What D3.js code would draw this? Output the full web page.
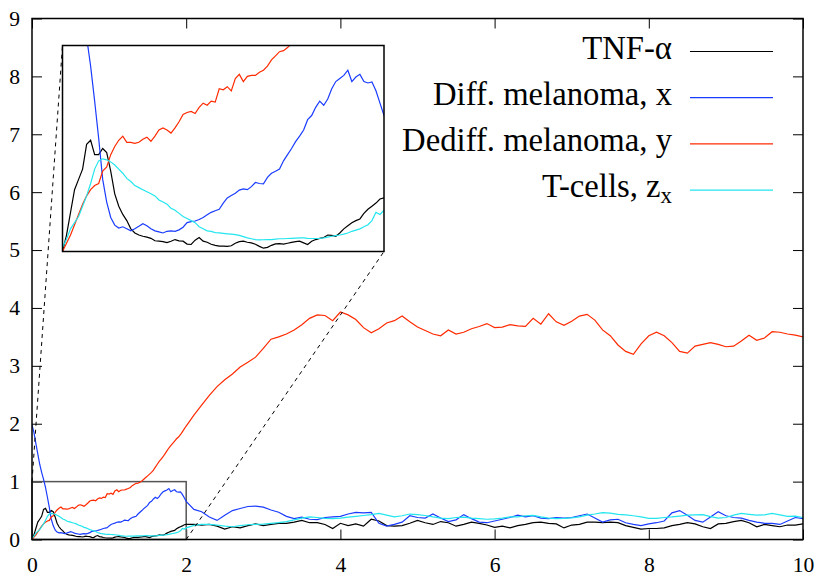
<!DOCTYPE html>
<html>
<head>
<meta charset="utf-8">
<script src="https://cdn.jsdelivr.net/npm/d3@7"></script>
<style>
  body { margin: 0; background: #fff; }
  svg text { font-family: "Liberation Serif", "DejaVu Serif", "Noto Serif", serif; fill: #000; }
</style>
</head>
<body>
<div id="chart"></div>
<script>

// Time grid: fine steps up to t=2 (shown in the inset), coarser afterwards
var timeEarly = d3.range(0, 80).map(function(i) { return i / 40; });
var timeLate = d3.range(20, 101).map(function(i) { return i / 10; });

// TNF-alpha
var tnfEarly = [
  0.00, 0.08, 0.19, 0.30, 0.35, 0.40, 0.52, 0.54,
  0.47, 0.47, 0.50, 0.48, 0.39, 0.28, 0.22, 0.18,
  0.15, 0.11, 0.09, 0.08, 0.074, 0.07, 0.064, 0.052,
  0.05, 0.048, 0.043, 0.05, 0.058, 0.052, 0.05, 0.036,
  0.034, 0.055, 0.068, 0.05, 0.045, 0.035, 0.03, 0.026,
  0.026, 0.025, 0.028, 0.04, 0.048, 0.05, 0.045, 0.042,
  0.035, 0.025, 0.016, 0.02, 0.03, 0.037, 0.038, 0.036,
  0.04, 0.044, 0.048, 0.05, 0.042, 0.034, 0.05, 0.058,
  0.064, 0.068, 0.08, 0.078, 0.074, 0.09, 0.11, 0.125,
  0.14, 0.15, 0.158, 0.185, 0.205, 0.22, 0.235, 0.255];
var tnfLate = [
  0.26, 0.26, 0.25, 0.26, 0.23, 0.18, 0.22, 0.20, 0.24, 0.27,
  0.24, 0.26, 0.28, 0.28, 0.30, 0.33, 0.29, 0.29, 0.26, 0.19,
  0.28, 0.24, 0.27, 0.23, 0.35, 0.32, 0.24, 0.23, 0.24, 0.28,
  0.33, 0.29, 0.26, 0.31, 0.29, 0.23, 0.26, 0.30, 0.28, 0.25,
  0.21, 0.23, 0.20, 0.24, 0.26, 0.29, 0.30, 0.28, 0.27, 0.20,
  0.25, 0.26, 0.30, 0.30, 0.29, 0.30, 0.29, 0.24, 0.21, 0.18,
  0.19, 0.19, 0.20, 0.24, 0.26, 0.29, 0.27, 0.22, 0.19, 0.27,
  0.28, 0.31, 0.33, 0.29, 0.22, 0.26, 0.24, 0.22, 0.25, 0.25,
  0.27];

// Differentiated melanoma, x
var diffEarly = [
  1.98, 1.85, 1.66, 1.48, 1.30, 1.16, 1.04, 0.90,
  0.73, 0.55, 0.35, 0.24, 0.165, 0.128, 0.114, 0.12,
  0.11, 0.10, 0.11, 0.122, 0.135, 0.125, 0.11, 0.10,
  0.095, 0.09, 0.098, 0.10, 0.098, 0.105, 0.118, 0.14,
  0.145, 0.148, 0.155, 0.165, 0.178, 0.19, 0.198, 0.205,
  0.235, 0.26, 0.272, 0.283, 0.298, 0.304, 0.30, 0.315,
  0.335, 0.33, 0.328, 0.36, 0.38, 0.39, 0.40, 0.44,
  0.47, 0.50, 0.533, 0.56, 0.59, 0.64, 0.66, 0.70,
  0.73, 0.71, 0.74, 0.79, 0.825, 0.84, 0.855, 0.88,
  0.825, 0.847, 0.86, 0.825, 0.818, 0.823, 0.78, 0.72];
var diffLate = [
  0.66, 0.52, 0.48, 0.39, 0.33, 0.42, 0.50, 0.535, 0.57, 0.575,
  0.56, 0.51, 0.47, 0.40, 0.36, 0.385, 0.35, 0.345, 0.38, 0.39,
  0.40, 0.44, 0.47, 0.46, 0.47, 0.28, 0.23, 0.26, 0.30, 0.41,
  0.38, 0.37, 0.44, 0.37, 0.31, 0.34, 0.43, 0.36, 0.30, 0.29,
  0.32, 0.35, 0.38, 0.42, 0.39, 0.41, 0.37, 0.36, 0.38, 0.37,
  0.38, 0.41, 0.44, 0.37, 0.30, 0.34, 0.35, 0.29, 0.26, 0.24,
  0.27, 0.29, 0.32, 0.46, 0.50, 0.42, 0.33, 0.30, 0.39, 0.48,
  0.41, 0.38, 0.37, 0.33, 0.30, 0.28, 0.28, 0.26, 0.32, 0.38,
  0.36];

// Dedifferentiated melanoma, y
var dediffEarly = [
  0.00, 0.04, 0.08, 0.13, 0.18, 0.23, 0.27, 0.30,
  0.32, 0.33, 0.39, 0.41, 0.47, 0.51, 0.54, 0.56,
  0.53, 0.53, 0.525, 0.53, 0.545, 0.555, 0.535, 0.56,
  0.59, 0.60, 0.59, 0.575, 0.60, 0.63, 0.665, 0.675,
  0.68, 0.67, 0.70, 0.72, 0.71, 0.73, 0.725, 0.79,
  0.785, 0.80, 0.78, 0.84, 0.86, 0.825, 0.85, 0.855,
  0.855, 0.87, 0.88, 0.90, 0.93, 0.95, 0.97, 0.975,
  0.99, 1.01, 1.04, 1.07, 1.10, 1.13, 1.16, 1.20,
  1.25, 1.30, 1.35, 1.39, 1.43, 1.48, 1.53, 1.58,
  1.62, 1.66, 1.70, 1.74, 1.77, 1.81, 1.86, 1.91];
var dediffLate = [
  1.96, 2.15, 2.32, 2.49, 2.64, 2.76, 2.86, 2.98, 3.06, 3.15,
  3.30, 3.46, 3.50, 3.55, 3.62, 3.71, 3.82, 3.88, 3.87, 3.78,
  3.93, 3.88, 3.80, 3.66, 3.57, 3.64, 3.74, 3.78, 3.86, 3.76,
  3.67, 3.61, 3.55, 3.52, 3.62, 3.55, 3.58, 3.64, 3.68, 3.73,
  3.66, 3.67, 3.71, 3.69, 3.68, 3.82, 3.72, 3.90, 3.76, 3.70,
  3.77, 3.86, 3.89, 3.79, 3.62, 3.52, 3.36, 3.25, 3.20, 3.38,
  3.52, 3.58, 3.52, 3.40, 3.25, 3.22, 3.34, 3.37, 3.40, 3.37,
  3.33, 3.34, 3.43, 3.53, 3.44, 3.48, 3.59, 3.58, 3.55, 3.53,
  3.50];

// T-cells, z_x
var tcellEarly = [
  0.02, 0.06, 0.11, 0.14, 0.17, 0.22, 0.27, 0.33,
  0.40, 0.44, 0.45, 0.445, 0.435, 0.42, 0.40, 0.38,
  0.355, 0.34, 0.32, 0.31, 0.30, 0.29, 0.28, 0.27,
  0.25, 0.24, 0.23, 0.21, 0.20, 0.185, 0.17, 0.16,
  0.15, 0.14, 0.12, 0.11, 0.10, 0.098, 0.092, 0.09,
  0.088, 0.086, 0.084, 0.082, 0.078, 0.072, 0.066, 0.062,
  0.058, 0.056, 0.057, 0.058, 0.058, 0.06, 0.062, 0.062,
  0.063, 0.064, 0.065, 0.066, 0.066, 0.064, 0.063, 0.063,
  0.063, 0.066, 0.07, 0.074, 0.077, 0.08, 0.084, 0.09,
  0.098, 0.104, 0.11, 0.12, 0.13, 0.15, 0.19, 0.18];
var tcellLate = [
  0.20, 0.245, 0.26, 0.26, 0.25, 0.23, 0.22, 0.24, 0.255, 0.26,
  0.265, 0.28, 0.29, 0.31, 0.34, 0.37, 0.39, 0.38, 0.365, 0.36,
  0.37, 0.385, 0.40, 0.415, 0.43, 0.45, 0.42, 0.39, 0.41, 0.44,
  0.43, 0.415, 0.39, 0.37, 0.36, 0.38, 0.385, 0.37, 0.36, 0.35,
  0.355, 0.37, 0.39, 0.39, 0.41, 0.415, 0.39, 0.37, 0.36, 0.365,
  0.375, 0.39, 0.42, 0.44, 0.465, 0.455, 0.435, 0.425, 0.41, 0.39,
  0.365, 0.365, 0.38, 0.39, 0.405, 0.42, 0.425, 0.43, 0.395, 0.37,
  0.38, 0.42, 0.45, 0.435, 0.42, 0.425, 0.45, 0.425, 0.40, 0.405,
  0.38];

// Legend labels, colours and axis ticks
var seriesLabels = ["TNF-\u03b1", "Diff. melanoma, x", "Dediff. melanoma, y", "T-cells, z"];
var seriesColors = ["#000000", "#1a3cff", "#ff2a00", "#22e6ee"];
var xTicks = [0, 2, 4, 6, 8, 10];
var yTicks = [0, 1, 2, 3, 4, 5, 6, 7, 8, 9];
var zoomWindow = {t: [0, 2], v: [0, 1]};

window.onload = function() {

  var width = 817, height = 577;
  var plot = {left: 32, right: 803, top: 18.5, bottom: 539.5};
  var inset = {left: 62.5, right: 384, top: 45.5, bottom: 251.5};
  var serif = "'Liberation Serif', 'DejaVu Serif', 'Noto Serif', serif";

  var time = timeEarly.concat(timeLate);
  var values = [
    tnfEarly.concat(tnfLate),
    diffEarly.concat(diffLate),
    dediffEarly.concat(dediffLate),
    tcellEarly.concat(tcellLate)
  ];
  var series = values.map(function(vals, k) {
    return {
      color: seriesColors[k],
      points: time.map(function(t, i) { return {t: t, v: vals[i]}; })
    };
  });

  var svg = d3.select("#chart").append("svg")
    .attr("width", width)
    .attr("height", height);

  // Scales for main plot and inset
  var x = d3.scaleLinear().domain([0, 10]).range([plot.left, plot.right]);
  var y = d3.scaleLinear().domain([0, 9]).range([plot.bottom, plot.top]);
  var xi = d3.scaleLinear().domain(zoomWindow.t).range([inset.left, inset.right]);
  var yi = d3.scaleLinear().domain(zoomWindow.v).range([inset.bottom, inset.top]);

  var defs = svg.append("defs");
  defs.append("clipPath").attr("id", "clip-main").append("rect")
    .attr("x", plot.left).attr("y", plot.top)
    .attr("width", plot.right - plot.left).attr("height", plot.bottom - plot.top);
  defs.append("clipPath").attr("id", "clip-inset").append("rect")
    .attr("x", inset.left).attr("y", inset.top)
    .attr("width", inset.right - inset.left).attr("height", inset.bottom - inset.top);

  // Legend first, so its font size can be fitted to the reference width
  var legendTop = 51.5, legendStep = 46.2;
  var legend = svg.selectAll(".legend")
    .data(seriesLabels)
    .enter()
    .append("g")
    .attr("class", "legend")
    .attr("transform", function(d, i) {
      return "translate(0," + (legendTop + i * legendStep) + ")";
    });

  legend.append("line")
    .attr("x1", 690).attr("x2", 773)
    .attr("y1", 0).attr("y2", 0)
    .attr("stroke", function(d, i) { return seriesColors[i]; })
    .attr("stroke-width", 1.2);

  var labels = legend.append("text")
    .attr("x", 672)
    .attr("y", 7)
    .attr("text-anchor", "end")
    .style("font-family", serif)
    .attr("font-size", 32);
  labels.append("tspan").attr("class", "main").text(function(d) { return d; });
  var sub = labels.filter(function(d, i) { return i === 3; })
    .append("tspan")
    .attr("dy", 6)
    .text("x");

  // fit: "Dediff. melanoma, y" spans ~270px in the reference
  var measured = labels.filter(function(d, i) { return i === 2; }).node().getComputedTextLength();
  var scale = measured > 0 ? 270 / measured : 1;
  var legendSize = 32 * scale;
  labels.attr("font-size", legendSize);
  sub.attr("font-size", legendSize * 0.7);
  var tickSize = legendSize * 0.66;

  // Axes with inward ticks on all four sides
  svg.append("g")
    .attr("transform", "translate(0," + plot.bottom + ")")
    .call(d3.axisBottom(x).tickValues(xTicks).tickSizeInner(-10).tickSizeOuter(0).tickPadding(17))
    .call(function(g) { g.select(".domain").remove(); });
  svg.append("g")
    .attr("transform", "translate(0," + plot.top + ")")
    .call(d3.axisTop(x).tickValues(xTicks).tickSizeInner(-10).tickSizeOuter(0).tickFormat(""))
    .call(function(g) { g.select(".domain").remove(); });
  svg.append("g")
    .attr("transform", "translate(" + plot.left + ",0)")
    .call(d3.axisLeft(y).tickValues(yTicks).tickSizeInner(-10).tickSizeOuter(0).tickPadding(12))
    .call(function(g) { g.select(".domain").remove(); });
  svg.append("g")
    .attr("transform", "translate(" + plot.right + ",0)")
    .call(d3.axisRight(y).tickValues(yTicks).tickSizeInner(-10).tickSizeOuter(0).tickFormat(""))
    .call(function(g) { g.select(".domain").remove(); });

  svg.selectAll(".tick line").attr("stroke", "#000").attr("stroke-width", 1);
  svg.selectAll(".tick text")
    .attr("font-size", tickSize)
    .style("font-family", serif);

  // Box marking the zoomed region
  svg.append("rect")
    .attr("x", x(zoomWindow.t[0]))
    .attr("y", y(zoomWindow.v[1]))
    .attr("width", x(zoomWindow.t[1]) - x(zoomWindow.t[0]))
    .attr("height", y(zoomWindow.v[0]) - y(zoomWindow.v[1]))
    .attr("fill", "none")
    .attr("stroke", "#555")
    .attr("stroke-width", 1.5);

  // Main curves
  var line = d3.line()
    .x(function(d) { return x(d.t); })
    .y(function(d) { return y(d.v); });

  svg.append("g").attr("clip-path", "url(#clip-main)")
    .selectAll("path")
    .data(series)
    .enter()
    .append("path")
    .attr("d", function(d) { return line(d.points); })
    .attr("fill", "none")
    .attr("stroke", function(d) { return d.color; })
    .attr("stroke-width", 1.2);

  // Frame
  svg.append("rect")
    .attr("x", plot.left).attr("y", plot.top)
    .attr("width", plot.right - plot.left).attr("height", plot.bottom - plot.top)
    .attr("fill", "none")
    .attr("stroke", "#000")
    .attr("stroke-width", 1.5);

  // Dashed connectors from zoom box to inset
  var connectors = [
    [x(zoomWindow.t[0]), y(zoomWindow.v[1]), inset.left, inset.top],
    [x(zoomWindow.t[1]), y(zoomWindow.v[0]), inset.right, inset.bottom]
  ];
  svg.selectAll(".connector")
    .data(connectors)
    .enter()
    .append("line")
    .attr("class", "connector")
    .attr("x1", function(d) { return d[0]; })
    .attr("y1", function(d) { return d[1]; })
    .attr("x2", function(d) { return d[2]; })
    .attr("y2", function(d) { return d[3]; })
    .attr("stroke", "#000")
    .attr("stroke-width", 1)
    .attr("stroke-dasharray", "4,4");

  // Inset
  svg.append("rect")
    .attr("x", inset.left).attr("y", inset.top)
    .attr("width", inset.right - inset.left).attr("height", inset.bottom - inset.top)
    .attr("fill", "#fff");

  var lineInset = d3.line()
    .x(function(d) { return xi(d.t); })
    .y(function(d) { return yi(d.v); });

  svg.append("g").attr("clip-path", "url(#clip-inset)")
    .selectAll("path")
    .data(series)
    .enter()
    .append("path")
    .attr("d", function(d) { return lineInset(d.points.filter(function(p) { return p.t <= 2.2; })); })
    .attr("fill", "none")
    .attr("stroke", function(d) { return d.color; })
    .attr("stroke-width", 1.2);

  svg.append("rect")
    .attr("x", inset.left).attr("y", inset.top)
    .attr("width", inset.right - inset.left).attr("height", inset.bottom - inset.top)
    .attr("fill", "none")
    .attr("stroke", "#000")
    .attr("stroke-width", 1.5);
}
</script>
</body>
</html>
